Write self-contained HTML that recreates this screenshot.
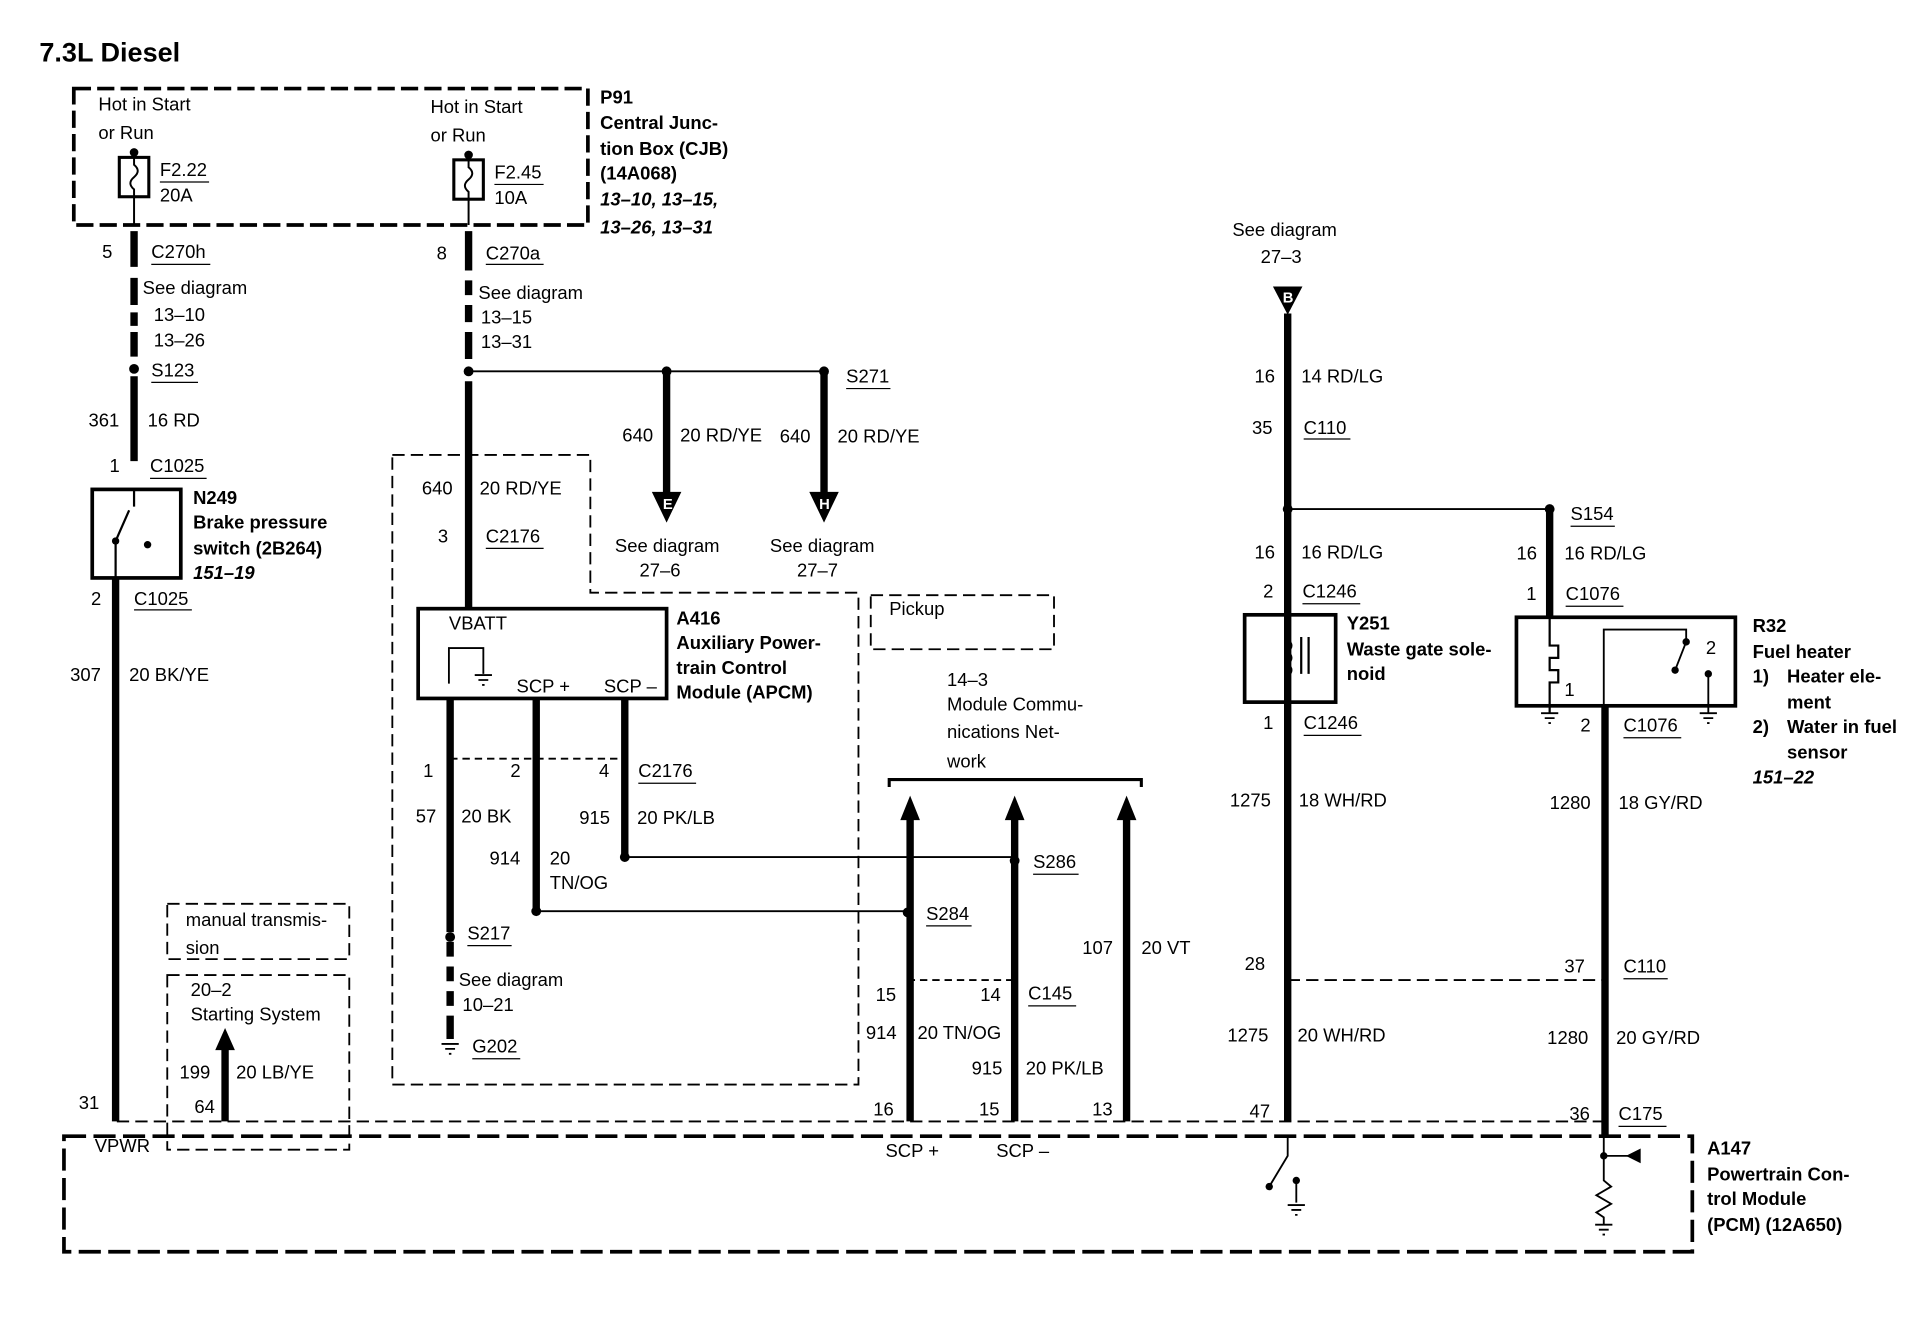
<!DOCTYPE html>
<html><head><meta charset="utf-8"><style>
html,body{margin:0;padding:0;background:#fff}
svg{display:block}
text{font-family:"Liberation Sans",Arial,sans-serif;font-size:15px;fill:#000}
.b{font-weight:bold}
.i{font-style:italic;font-weight:bold}
</style></head><body>
<svg width="1926" height="1344" viewBox="0 0 1566 1093" preserveAspectRatio="none" xmlns="http://www.w3.org/2000/svg">
<g fill="none" stroke="#000">
<rect x="60" y="72" width="418" height="111" stroke-width="3" stroke-dasharray="14,5"/>
<rect x="97" y="128" width="24" height="32" stroke-width="2.5"/>
<path d="M109 124 V134 Q115 139 109 144 Q103 149 109 154 V183" stroke-width="1.6"/>
<rect x="369" y="130" width="24" height="32" stroke-width="2.5"/>
<path d="M381 126 V136 Q387 141 381 146 Q375 151 381 156 V183" stroke-width="1.6"/>
<path d="M109 188 V217 M109 226 V248 M109 254 V265 M109 270 V290 M109 306 V375" stroke-width="6"/>
<path d="M94 470 V912" stroke-width="6"/>
<rect x="75" y="398" width="72" height="72" stroke-width="3"/>
<path d="M109 398 V412 M94 440 V470 M94 440 L105 415" stroke-width="1.8"/>
<path d="M381 188 V220 M381 228 V240 M381 248 V262 M381 270 V292 M381 310 V495" stroke-width="6"/>
<path d="M381 302 H670" stroke-width="1.5"/>
<path d="M542 302 V402 M670 302 V402" stroke-width="6"/>
<path d="M319 370 H480 V482 H698 V882 H319 Z" stroke-width="1.5" stroke-dasharray="10,5"/>
<rect x="340" y="495" width="202" height="73" stroke-width="3"/>
<path d="M365 556 V527 H393 V548" stroke-width="1.5"/>
<path d="M386 549 H400 M389 553 H397 M392 557 H394" stroke-width="1.5"/>
<path d="M366 568 V758 M436 568 V740 M508 568 V697" stroke-width="6"/>
<path d="M366 766 V778 M366 786 V798 M366 806 V818 M366 826 V845" stroke-width="6"/>
<path d="M359 849 H373 M362 853 H370 M365 857 H367" stroke-width="1.5"/>
<path d="M366 617 H510" stroke-width="1.5" stroke-dasharray="6,4"/>
<path d="M508 697 H825 M436 741 H738" stroke-width="1.5"/>
<rect x="708" y="484" width="149" height="44" stroke-width="1.5" stroke-dasharray="10,5"/>
<path d="M723 640 V634 H928 V640" stroke-width="2.5"/>
<path d="M740 665 V912 M825 665 V912 M916 665 V912" stroke-width="6"/>
<path d="M738 797 H825" stroke-width="1.5" stroke-dasharray="6,4"/>
<rect x="136" y="735" width="148" height="45" stroke-width="1.5" stroke-dasharray="10,5"/>
<rect x="136" y="793" width="148" height="142" stroke-width="1.5" stroke-dasharray="10,5"/>
<path d="M183 912 V852" stroke-width="6"/>
<path d="M52 924 H1376 V1018 H52 Z" stroke-width="3" stroke-dasharray="18,6"/>
<path d="M95 912 H1305" stroke-width="1.5" stroke-dasharray="10,5"/>
<path d="M1047 255 V912" stroke-width="6"/>
<path d="M1047 414 H1260" stroke-width="1.5"/>
<path d="M1260 414 V502" stroke-width="6"/>
<path d="M1305 575 V924" stroke-width="6"/>
<path d="M1047 797 H1305" stroke-width="1.5" stroke-dasharray="10,5"/>
<rect x="1012" y="500" width="74" height="71" stroke-width="3"/>
<path d="M1047 500 V520 Q1053 525 1047 530 Q1053 535 1047 540 Q1053 545 1047 550 V571" stroke-width="1.8"/>
<path d="M1058 518 V548 M1064 518 V548" stroke-width="1.8"/>
<rect x="1233" y="502" width="178" height="72" stroke-width="3"/>
<path d="M1260 502 V525 H1267 V535 H1260 V545 H1267 V555 H1260 V580" stroke-width="1.8"/>
<path d="M1253 580 H1267 M1256 584 H1264 M1259 588 H1261" stroke-width="1.5"/>
<path d="M1304 575 V512 H1371 V522 L1362 545" stroke-width="1.5"/>
<path d="M1389 548 V580 M1382 580 H1396 M1385 584 H1393 M1388 588 H1390" stroke-width="1.5"/>
<path d="M1047 924 V940 L1032 965 M1054 960 V978 M1047 980 H1061 M1050 984 H1058 M1053 988 H1055" stroke-width="1.5"/>
<path d="M1304 924 V960 L1310 965 L1298 972 L1310 979 L1298 986 L1304 990 V996 M1297 996 H1311 M1300 1000 H1308 M1303 1004 H1305 M1304 940 H1332" stroke-width="1.5"/>
<g stroke-width="1">
<path d="M130 148 H170 M402 150 H442 M123 215 H171 M395 215 H442 M123 311 H161 M122 389 H168 M109 496 H156 M688 316 H724 M395 446 H442 M519 637 H566 M380 769 H416 M384 861 H423 M840 711 H877 M753 753 H790 M836 818 H875 M1060 357 H1098 M1277 428 H1313 M1059 491 H1106 M1273 493 H1320 M1060 598 H1107 M1320 600 H1367 M1320 796 H1356 M1316 916 H1355"/>
</g>
</g>
<g fill="#000">
<circle cx="109" cy="124" r="3.5"/><circle cx="381" cy="126" r="3.5"/>
<circle cx="109" cy="300" r="4"/><circle cx="381" cy="302" r="4"/>
<circle cx="542" cy="302" r="4"/><circle cx="670" cy="302" r="4"/>
<circle cx="120" cy="443" r="3"/><circle cx="94" cy="440" r="3"/>
<circle cx="508" cy="697" r="4"/><circle cx="436" cy="741" r="4"/><circle cx="366" cy="762" r="4"/>
<circle cx="825" cy="700" r="4"/><circle cx="738" cy="742" r="4"/>
<circle cx="1047" cy="414" r="4"/><circle cx="1260" cy="414" r="4"/>
<circle cx="1304" cy="940" r="3"/><circle cx="1032" cy="965" r="3"/><circle cx="1054" cy="960" r="3"/>
<circle cx="1371" cy="522" r="3"/><circle cx="1362" cy="545" r="3"/><circle cx="1389" cy="548" r="3"/>
<path d="M530 400 H554 L542 425 Z M658 400 H682 L670 425 Z M1035 233 H1059 L1047 256 Z"/>
<path d="M732 667 L740 647 L748 667 Z M817 667 L825 647 L833 667 Z M908 667 L916 647 L924 667 Z M175 854 L183 836 L191 854 Z M1334 934 L1322 940 L1334 946 Z"/>
</g>
<text x="539" y="414" style="fill:#fff;font-size:12px" class="b">E</text>
<text x="666" y="414" style="fill:#fff;font-size:12px" class="b">H</text>
<text x="1043" y="246" style="fill:#fff;font-size:12px" class="b">B</text>

<text x="32" y="50" class="b" style="font-size:22px">7.3L Diesel</text>
<text x="80" y="90">Hot in Start</text><text x="80" y="113">or Run</text>
<text x="350" y="92">Hot in Start</text><text x="350" y="115">or Run</text>
<text x="130" y="143">F2.22</text><text x="130" y="164">20A</text>
<text x="402" y="145">F2.45</text><text x="402" y="166">10A</text>
<text x="488" y="84" class="b">P91</text>
<text x="488" y="105" class="b">Central Junc-</text>
<text x="488" y="126" class="b">tion Box (CJB)</text>
<text x="488" y="146" class="b">(14A068)</text>
<text x="488" y="167" class="i">13–10, 13–15,</text>
<text x="488" y="190" class="i">13–26, 13–31</text>
<text x="83" y="210">5</text><text x="123" y="210">C270h</text>
<text x="116" y="239">See diagram</text><text x="125" y="261">13–10</text><text x="125" y="282">13–26</text>
<text x="123" y="306">S123</text>
<text x="72" y="347">361</text><text x="120" y="347">16 RD</text>
<text x="89" y="384">1</text><text x="122" y="384">C1025</text>
<text x="157" y="410" class="b">N249</text>
<text x="157" y="430" class="b">Brake pressure</text>
<text x="157" y="451" class="b">switch (2B264)</text>
<text x="157" y="471" class="i">151–19</text>
<text x="74" y="492">2</text><text x="109" y="492">C1025</text>
<text x="57" y="554">307</text><text x="105" y="554">20 BK/YE</text>
<text x="355" y="211">8</text><text x="395" y="211">C270a</text>
<text x="389" y="243">See diagram</text><text x="391" y="263">13–15</text><text x="391" y="283">13–31</text>
<text x="688" y="311">S271</text>
<text x="506" y="359">640</text><text x="553" y="359">20 RD/YE</text>
<text x="634" y="360">640</text><text x="681" y="360">20 RD/YE</text>
<text x="500" y="449">See diagram</text><text x="520" y="469">27–6</text>
<text x="626" y="449">See diagram</text><text x="648" y="469">27–7</text>
<text x="343" y="402">640</text><text x="390" y="402">20 RD/YE</text>
<text x="356" y="441">3</text><text x="395" y="441">C2176</text>
<text x="365" y="512">VBATT</text>
<text x="420" y="563">SCP +</text><text x="491" y="563">SCP –</text>
<text x="550" y="508" class="b">A416</text>
<text x="550" y="528" class="b">Auxiliary Power-</text>
<text x="550" y="548" class="b">train Control</text>
<text x="550" y="568" class="b">Module (APCM)</text>
<text x="723" y="500">Pickup</text>
<text x="344" y="632">1</text><text x="415" y="632">2</text><text x="487" y="632">4</text><text x="519" y="632">C2176</text>
<text x="338" y="669">57</text><text x="375" y="669">20 BK</text>
<text x="471" y="670">915</text><text x="518" y="670">20 PK/LB</text>
<text x="398" y="703">914</text><text x="447" y="703">20</text><text x="447" y="723">TN/OG</text>
<text x="380" y="764">S217</text>
<text x="373" y="802">See diagram</text><text x="376" y="822">10–21</text>
<text x="384" y="856">G202</text>
<text x="770" y="558">14–3</text><text x="770" y="578">Module Commu-</text>
<text x="770" y="600">nications Net-</text><text x="770" y="624">work</text>
<text x="840" y="706">S286</text><text x="753" y="748">S284</text>
<text x="880" y="776">107</text><text x="928" y="776">20 VT</text>
<text x="712" y="814">15</text><text x="797" y="814">14</text><text x="836" y="813">C145</text>
<text x="704" y="845">914</text><text x="746" y="845">20 TN/OG</text>
<text x="790" y="874">915</text><text x="834" y="874">20 PK/LB</text>
<text x="710" y="907">16</text><text x="796" y="907">15</text><text x="888" y="907">13</text>
<text x="720" y="941">SCP +</text><text x="810" y="941">SCP –</text>
<text x="151" y="753">manual transmis-</text><text x="151" y="776">sion</text>
<text x="155" y="810">20–2</text><text x="155" y="830">Starting System</text>
<text x="146" y="877">199</text><text x="192" y="877">20 LB/YE</text>
<text x="158" y="905">64</text>
<text x="64" y="902">31</text><text x="77" y="937">VPWR</text>
<text x="1002" y="192">See diagram</text><text x="1025" y="214">27–3</text>
<text x="1020" y="311">16</text><text x="1058" y="311">14 RD/LG</text>
<text x="1018" y="353">35</text><text x="1060" y="353">C110</text>
<text x="1277" y="423">S154</text>
<text x="1020" y="454">16</text><text x="1058" y="454">16 RD/LG</text>
<text x="1233" y="455">16</text><text x="1272" y="455">16 RD/LG</text>
<text x="1027" y="486">2</text><text x="1059" y="486">C1246</text>
<text x="1241" y="488">1</text><text x="1273" y="488">C1076</text>
<text x="1095" y="512" class="b">Y251</text>
<text x="1095" y="533" class="b">Waste gate sole-</text>
<text x="1095" y="553" class="b">noid</text>
<text x="1387" y="532">2</text><text x="1272" y="566">1</text>
<text x="1425" y="514" class="b">R32</text>
<text x="1425" y="535" class="b">Fuel heater</text>
<text x="1425" y="555" class="b">1)</text><text x="1453" y="555" class="b">Heater ele-</text>
<text x="1453" y="576" class="b">ment</text>
<text x="1425" y="596" class="b">2)</text><text x="1453" y="596" class="b">Water in fuel</text>
<text x="1453" y="617" class="b">sensor</text>
<text x="1425" y="637" class="i">151–22</text>
<text x="1027" y="593">1</text><text x="1060" y="593">C1246</text>
<text x="1285" y="595">2</text><text x="1320" y="595">C1076</text>
<text x="1000" y="656">1275</text><text x="1056" y="656">18 WH/RD</text>
<text x="1260" y="658">1280</text><text x="1316" y="658">18 GY/RD</text>
<text x="1012" y="789">28</text>
<text x="1272" y="791">37</text><text x="1320" y="791">C110</text>
<text x="998" y="847">1275</text><text x="1055" y="847">20 WH/RD</text>
<text x="1258" y="849">1280</text><text x="1314" y="849">20 GY/RD</text>
<text x="1016" y="909">47</text>
<text x="1276" y="911">36</text><text x="1316" y="911">C175</text>
<text x="1388" y="939" class="b">A147</text>
<text x="1388" y="960" class="b">Powertrain Con-</text>
<text x="1388" y="980" class="b">trol Module</text>
<text x="1388" y="1001" class="b">(PCM) (12A650)</text>
</svg>
</body></html>
